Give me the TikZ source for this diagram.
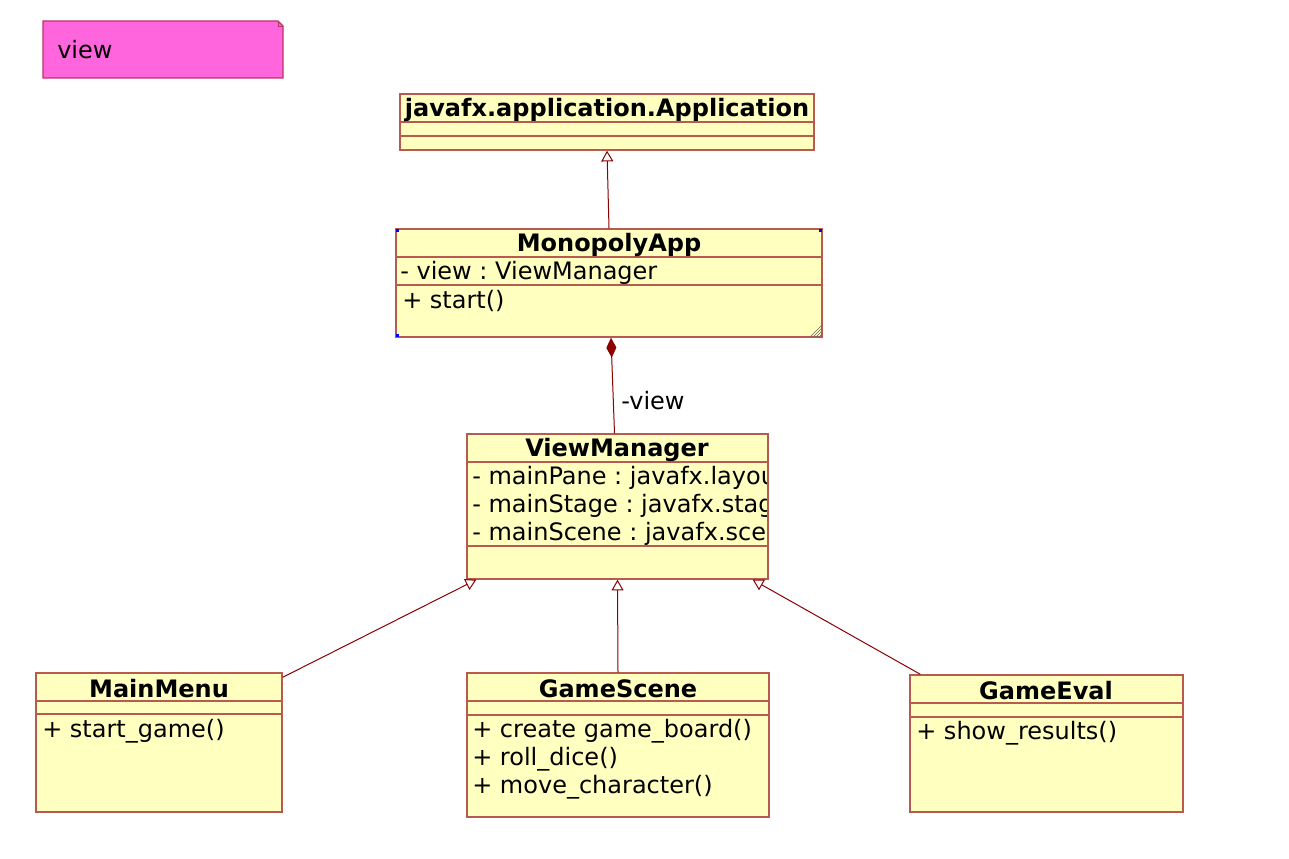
\documentclass[tikz,border=0pt]{standalone}
\usepackage{fontspec}
\setmainfont{DejaVu Sans}
\usetikzlibrary{arrows.meta,fit,calc}
\definecolor{classfill}{RGB}{255,255,192}
\definecolor{boxline}{RGB}{185,90,80}
\definecolor{linkred}{RGB}{140,0,0}
\definecolor{notepink}{RGB}{255,102,221}
\definecolor{noteline}{RGB}{190,50,100}
\tikzset{
    classbox/.style={draw=boxline,fill=classfill,line width=1.1pt,inner sep=0pt,fit={#1}},
    classname/.style={font=\fontsize{18}{21}\selectfont\bfseries,inner sep=0pt},
    member/.style={anchor=west,inner sep=0pt},
    sep/.style={draw=boxline,line width=1.1pt},
    inherit/.style={draw=linkred,line width=0.75pt,-{Triangle[open,width=9pt,length=8pt]}},
    compose/.style={draw=linkred,line width=0.75pt,{Diamond[fill=linkred,width=7.5pt,length=15pt]}-}
}
\frenchspacing

\begin{document}
\begin{tikzpicture}[x=0.75pt,y=-0.75pt,every node/.style={font=\fontsize{18}{21}\selectfont}]
    \useasboundingbox (0,0) rectangle (1289,859);

    % package note
    \filldraw[fill=notepink,draw=noteline,line width=0.9pt] (43,21) -- (278,21) -- (283,26) -- (283,78) -- (43,78) -- cycle;
    \draw[noteline,line width=0.6pt] (278,21) -- (278,26) -- (283,26);
    \node[member] (notelbl) at (57,50) {view};

    % classes
    \node[classbox={(400,94) (814,150)}] (app) {};
    \draw[sep] (400,122) -- (814,122);
    \draw[sep] (400,136) -- (814,136);
    \node[classname] (appname) at (607,110) {javafx.application.Application};

    \node[classbox={(396,229) (822,337)}] (mono) {};
    \draw[sep] (396,257) -- (822,257);
    \draw[sep] (396,285) -- (822,285);
    \node[classname] (mononame) at (609,245) {MonopolyApp};
    \node[member] (monoattr) at (400,273) {- view : ViewManager};
    \node[member] (monoop) at (402,301) {+ start()};
    \foreach \cx/\cy in {396/229,819/229,396/334}
        \fill[blue] (\cx,\cy) rectangle +(3,3);
    \foreach \d in {3,6,9,12}
        \draw[gray!80!black,line width=0.5pt] (822,337-\d) -- (822-\d,337);

    \node[classbox={(467,434) (768,579)}] (vm) {};
    \draw[sep] (467,462) -- (768,462);
    \draw[sep] (467,546) -- (768,546);
    \node[classname] (vmname) at (617,450) {ViewManager};
    \begin{scope}
        \clip (467,462) rectangle (766,546);
        \node[member] (vmpane) at (472,478) {- mainPane : javafx.layout};
        \node[member] (vmstage) at (472,506) {- mainStage : javafx.stage};
        \node[member] (vmscene) at (472,534) {- mainScene : javafx.scene};
    \end{scope}

    \node[classbox={(36,673) (282,812)}] (mm) {};
    \draw[sep] (36,701) -- (282,701);
    \draw[sep] (36,714) -- (282,714);
    \node[classname] (mmname) at (159,689) {MainMenu};
    \node[member] (mmop) at (42,731) {+ start\_game()};

    \node[classbox={(467,673) (769,817)}] (gs) {};
    \draw[sep] (467,701) -- (769,701);
    \draw[sep] (467,715) -- (769,715);
    \node[classname] (gsname) at (618,689) {GameScene};
    \node[member] (gsop1) at (472,731) {+ create game\_board()};
    \node[member] (gsop2) at (472,759) {+ roll\_dice()};
    \node[member] (gsop3) at (472,787) {+ move\_character()};

    \node[classbox={(910,675) (1183,812)}] (ge) {};
    \draw[sep] (910,703) -- (1183,703);
    \draw[sep] (910,717) -- (1183,717);
    \node[classname] (gename) at (1046,691) {GameEval};
    \node[member] (geop) at (916,733) {+ show\_results()};

    % relations
    \draw[inherit] (mono.north) -- (app.south);
    \draw[compose] ($(mono.south)+(2,0)$) -- ($(vm.north)+(-3,0)$);
    \node[member] (viewlbl) at (621,401) {-view};
    \draw[inherit] ($(mm.north east)+(0,5)$) -- ($(vm.south west)+(10,0)$);
    \draw[inherit] (gs.north) -- (vm.south);
    \draw[inherit] ($(ge.north west)+(11,0)$) -- ($(vm.south east)+(-16,0)$);
\end{tikzpicture}
\end{document}
